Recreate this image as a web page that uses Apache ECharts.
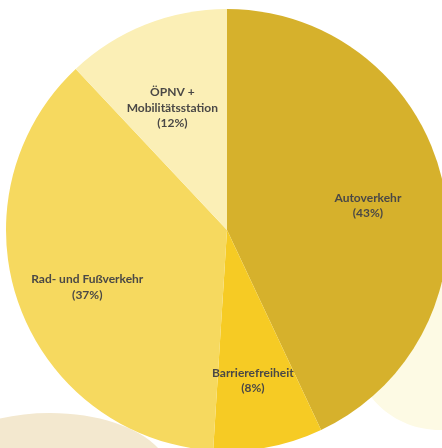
<!DOCTYPE html>
<html><head><meta charset="utf-8">
<script src="https://cdn.jsdelivr.net/npm/echarts@6/dist/echarts.min.js"></script>
<style>html,body{margin:0;padding:0;background:#fff}#c{width:442px;height:448px}</style>
</head><body><div id="c"></div>
<script>
const categories = ['Autoverkehr', 'Barrierefreiheit', 'Rad- und Fußverkehr', 'ÖPNV +\nMobilitätsstation'];
const values = [43, 8, 37, 12];
const colors = ['#D6B12C', '#F6CB24', '#F6D95F', '#FBEFB6'];

const chart = echarts.init(document.getElementById('c'), null, {renderer: 'canvas'});
const data = categories.map((c, i) => ({name: c, value: values[i], itemStyle: {color: colors[i]}}));
const labelNudge = [[-4, 8], [-2, 5], [0, 7], [0, 16]];
chart.setOption({
  animation: false,
  graphic: [
    {type: 'ellipse', z: -10, shape: {cx: 440, cy: 350, rx: 85, ry: 80}, style: {fill: '#FDFAE4'}},
    {type: 'ellipse', z: -10, shape: {cx: 50, cy: 475, rx: 120, ry: 62}, style: {fill: '#F3E8CF'}}
  ],
  series: [
    {
      type: 'pie', center: [227, 230], radius: [0, 221], startAngle: 90, clockwise: true,
      label: {show: false}, labelLine: {show: false}, data: data, silent: true,
      itemStyle: {borderWidth: 0}
    },
    {
      type: 'pie', center: [227, 230], radius: [70, 221], startAngle: 90, clockwise: true,
      itemStyle: {color: 'rgba(0,0,0,0)', borderWidth: 0}, silent: true,
      label: {
        show: true, position: 'inside', formatter: '{b}\n({c}%)',
        fontFamily: 'Lato', fontWeight: 'bold', fontSize: 12, lineHeight: 15.5, color: '#4A4846', align: 'center'
      },
      labelLine: {show: false},
      labelLayout: function (p) {
        const n = labelNudge[p.dataIndex];
        return {dx: n[0], dy: n[1]};
      },
      data: categories.map((c, i) => ({name: c, value: values[i]}))
    }
  ]
});
</script></body></html>
